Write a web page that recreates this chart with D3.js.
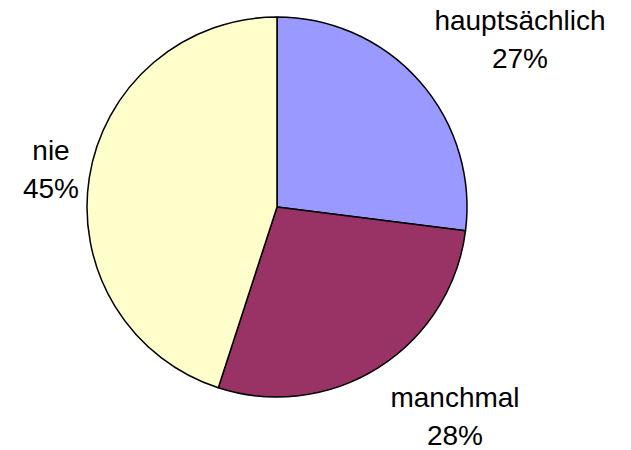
<!DOCTYPE html>
<html>
<head>
    <meta charset="utf-8">
    <script src="https://cdnjs.cloudflare.com/ajax/libs/d3/7.8.5/d3.min.js"></script>
    <style>
        body { margin: 0; background: #fff; }
        text { font-family: "Liberation Sans", Arial, sans-serif; font-size: 28px; fill: #000; }
    </style>
</head>
<body>
    <div id="chart"></div>
    <script>
        const categories = ["hauptsächlich", "manchmal", "nie"];
        const values = [27, 28, 45];
        const colors = ["#9999FF", "#993366", "#FFFFCC"];
        const labelPos = [[520, 30], [455, 407], [51, 160]];

        const width = 631, height = 450;
        const cx = 277, cy = 207, r = 190;

        const svg = d3.select("#chart").append("svg")
            .attr("width", width)
            .attr("height", height);

        const pie = d3.pie().sort(null).value(d => d)(values);
        const arc = d3.arc().innerRadius(0).outerRadius(r);

        const g = svg.append("g").attr("transform", `translate(${cx},${cy})`);

        g.selectAll("path")
            .data(pie)
            .enter().append("path")
            .attr("d", arc)
            .attr("fill", (d, i) => colors[i])
            .attr("stroke", "#000")
            .attr("stroke-width", 1.5)
            .attr("stroke-linejoin", "round");

        const labels = svg.selectAll(".lbl")
            .data(categories)
            .enter().append("text")
            .attr("class", "lbl")
            .attr("text-anchor", "middle")
            .attr("x", (d, i) => labelPos[i][0])
            .attr("y", (d, i) => labelPos[i][1]);

        labels.append("tspan").text(d => d);
        labels.append("tspan")
            .attr("x", (d, i) => labelPos[i][0])
            .attr("dy", 38)
            .text((d, i) => values[i] + "%");
    </script>
</body>
</html>
